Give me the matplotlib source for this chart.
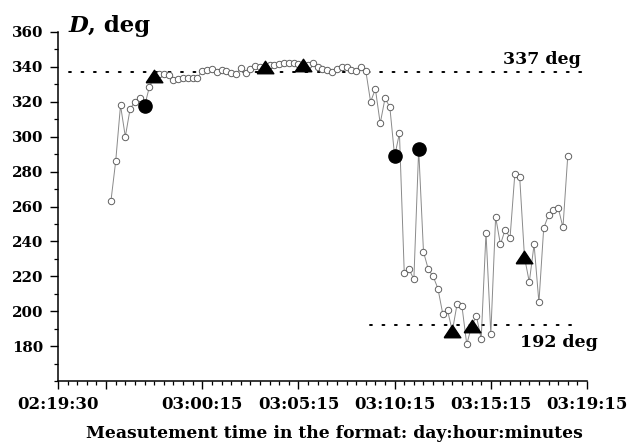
import numpy as np
import matplotlib
matplotlib.use("Agg")
import matplotlib.pyplot as plt
from matplotlib.ticker import MultipleLocator, FixedLocator

# declination readings, one every half tick step starting at 5.5
start_pos = 5.5
step = 0.5
decl = [
    263, 286, 318, 300, 316, 320, 322, 317.5, 328.5,
    334.5, 336, 336, 335.3, 332.4, 333, 333.8, 333.8, 333.8, 333.8, 337.7, 338.4,
    339, 336.8, 338.3, 337.4, 336.6, 336, 339.1, 336.6, 339, 340.7,
    340, 340, 341, 341, 341.4, 342, 342, 342, 341.5, 341, 341, 342,
    340, 339, 338.2, 337, 338.7, 340, 340, 338.2, 337.8, 340, 337.8,
    320, 327.3, 307.6, 322, 317, 288.8, 302, 222, 224, 218.3, 293, 234,
    224, 220, 213, 198.6, 200.5, 188.6, 204.3, 202.8, 181, 191.5, 197.2,
    184.2, 245, 187, 254, 238.3, 246.8, 242, 278.9, 277, 231, 216.7,
    238.3, 205, 247.7, 255, 258, 259.4, 248, 289,
]
tri_pos = [10.0, 21.5, 25.5, 41.0, 43.0, 48.5]
dot_pos = [9.0, 35.0, 37.5]

level_hi = 337
level_lo = 192

tick_pos = [0, 5, 15, 25, 35, 45, 55]
tick_labels = ["02:19:30", "", "03:00:15", "03:05:15", "03:10:15", "03:15:15", "03:19:15"]

plt.rcParams["font.family"] = "DejaVu Serif"
plt.rcParams["font.weight"] = "bold"

pos = start_pos + step * np.arange(len(decl))
decl = np.asarray(decl, dtype=float)
special = np.isin(pos, tri_pos + dot_pos)
is_tri = np.isin(pos, tri_pos)
is_dot = np.isin(pos, dot_pos)

fig = plt.figure(figsize=(6.27, 4.45), dpi=100)
ax = fig.add_axes([0.0925, 0.1438, 0.8437, 0.7843])

ax.plot(pos, decl, color="#8a8a8a", lw=0.7, zorder=2)
ax.plot(pos[~special], decl[~special], ls="none", marker="o", ms=4.6,
        mfc="white", mec="#606060", mew=0.7, zorder=3)
tri_marker = [(-1, -0.75), (1, -0.75), (0, 0.75), (-1, -0.75)]
ax.plot(pos[is_tri], decl[is_tri], ls="none", marker=tri_marker, ms=12,
        color="black", zorder=4)
ax.plot(pos[is_dot], decl[is_dot], ls="none", marker="o", ms=9.5,
        color="black", zorder=4)

# reference levels
ax.plot([1.1, 55.0], [level_hi, level_hi], color="black", lw=1.4,
        ls=(0, (1, 5.4)), dash_capstyle="round", zorder=1)
ax.plot([32.4, 54.2], [level_lo, level_lo], color="black", lw=1.4,
        ls=(0, (1, 5.4)), dash_capstyle="round", zorder=1)
ax.text(54.3, 341.5, f"{level_hi} deg", ha="right", va="baseline",
        fontsize=12.5, fontweight="bold")
ax.text(56.1, 179.5, f"{level_lo} deg", ha="right", va="baseline",
        fontsize=12.5, fontweight="bold", clip_on=False)

# axis title in the corner
d_txt = ax.text(1.1, 360.2, "D", ha="left", va="baseline", fontsize=16.5,
                fontweight="bold", fontstyle="italic", clip_on=False)
ax.annotate(", deg", xy=(1.0, 360.2), xycoords=(d_txt, "data"),
            ha="left", va="baseline", fontsize=16.5, fontweight="bold",
            annotation_clip=False)

ax.set_xlim(0, 55)
ax.set_ylim(160, 360)
ax.xaxis.set_major_locator(FixedLocator(tick_pos))
ax.set_xticklabels(tick_labels)
ax.xaxis.set_minor_locator(MultipleLocator(1))
ax.yaxis.set_major_locator(FixedLocator(np.arange(180, 361, 20)))
ax.yaxis.set_minor_locator(MultipleLocator(10))

for s in ("top", "right"):
    ax.spines[s].set_visible(False)
for s in ("left", "bottom"):
    ax.spines[s].set_linewidth(1.1)

ax.tick_params(which="major", direction="out", length=5.5, width=1.0)
ax.tick_params(which="minor", direction="out", length=3, width=0.9)
ax.tick_params(axis="x", which="major", labelsize=12, pad=5)
ax.tick_params(axis="y", which="major", labelsize=10.8, pad=5)
for lbl in ax.get_xticklabels() + ax.get_yticklabels():
    lbl.set_fontweight("bold")

fig.text(0.533, 0.016, "Measutement time in the format: day:hour:minutes",
         ha="center", va="baseline", fontsize=12.3, fontweight="bold")

fig.savefig("out.png", dpi=100)
